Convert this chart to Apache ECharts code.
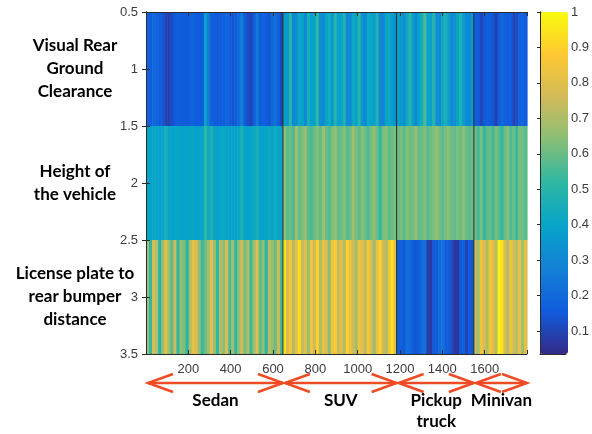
<!DOCTYPE html>
<html>
<head>
<meta charset="utf-8">
<script src="https://cdn.jsdelivr.net/npm/echarts@6/dist/echarts.min.js"></script>
<style>
  html, body { margin: 0; background: #fff; }
  #chart { width: 592px; height: 434px; }
</style>
</head>
<body>
<div id="chart"></div>
<script>
// vehicle classes and the column where each one starts / ends
var classNames = ['Sedan', 'SUV', 'Pickup\ntruck', 'Minivan'];
var classEdges = [0, 647, 1184, 1549, 1800];

var rowNames = ['Visual Rear\nGround\nClearance', 'Height of\nthe vehicle', 'License plate to\nrear bumper\ndistance'];

// Visual rear ground clearance (row 1), stripes per class
var clearanceSedan = [0.17,0.16,0.2,0.18,0.16,0.14,0.1,0.09,0.12,0.16,0.17,0.16,0.16,0.15,0.17,0.18,0.16,0.16,0.15,0.4,0.26,0.18,0.16,0.15,0.16,0.17,0.18,0.16,0.14,0.16,0.2,0.26,0.16,0.12,0.1,0.16,0.26,0.16,0.18,0.16,0.14,0.2,0.22,0.18,0.1];
var clearanceSuv = [0.38,0.36,0.5,0.3,0.32,0.42,0.4,0.3,0.46,0.38,0.4,0.52,0.32,0.3,0.4,0.44,0.36,0.5,0.38,0.4,0.48,0.3,0.31,0.42,0.39,0.5,0.34,0.3,0.42,0.4,0.38,0.48,0.3,0.28,0.4,0.42,0.38,0.32];
var clearancePickup = [0.4,0.36,0.32,0.42,0.5,0.38,0.3,0.4,0.44,0.56,0.4,0.38,0.5,0.32,0.3,0.42,0.46,0.38,0.3,0.32,0.4,0.48,0.38,0.31,0.3,0.36];
var clearanceMinivan = [0.16,0.15,0.1,0.15,0.17,0.16,0.14,0.09,0.16,0.2,0.17,0.15,0.16,0.1,0.12,0.17,0.18,0.16];

// Height of the vehicle (row 2)
var heightSedan = [0.4,0.39,0.41,0.4,0.39,0.4,0.46,0.4,0.39,0.4,0.41,0.4,0.39,0.4,0.4,0.41,0.39,0.4,0.4,0.52,0.42,0.48,0.4,0.39,0.4,0.41,0.4,0.39,0.4,0.4,0.41,0.47,0.4,0.39,0.4,0.41,0.46,0.4,0.39,0.4,0.42,0.4,0.44,0.4,0.39];
var heightSuv = [0.66,0.58,0.6,0.56,0.68,0.59,0.62,0.66,0.58,0.55,0.6,0.64,0.58,0.68,0.6,0.57,0.62,0.66,0.59,0.6,0.64,0.57,0.6,0.68,0.62,0.58,0.64,0.6,0.56,0.62,0.66,0.6,0.52,0.62,0.64,0.58,0.6,0.62];
var heightPickup = [0.6,0.62,0.58,0.64,0.6,0.61,0.66,0.59,0.6,0.63,0.58,0.6,0.62,0.66,0.6,0.58,0.62,0.64,0.6,0.59,0.62,0.6,0.65,0.6,0.58,0.6];
var heightMinivan = [0.6,0.55,0.62,0.52,0.58,0.6,0.54,0.62,0.58,0.52,0.6,0.64,0.56,0.6,0.53,0.62,0.6,0.58];

// License plate to rear bumper distance (row 3)
var plateSedan = [0.68,0.52,0.78,0.7,0.5,0.66,0.8,0.68,0.58,0.76,0.52,0.66,0.62,0.5,0.7,0.82,0.78,0.66,0.53,0.6,0.68,0.8,0.66,0.52,0.72,0.64,0.78,0.56,0.68,0.51,0.66,0.76,0.62,0.7,0.53,0.68,0.8,0.58,0.66,0.5,0.72,0.66,0.6,0.76,0.55];
var plateSuv = [0.94,0.78,0.86,0.7,0.82,0.92,0.74,0.8,0.66,0.84,0.76,0.9,0.7,0.82,0.78,0.64,0.84,0.88,0.74,0.8,0.7,0.9,0.82,0.76,0.68,0.84,0.8,0.72,0.86,0.78,0.66,0.82,0.9,0.76,0.7,0.84,0.94,0.8];
var platePickup = [0.16,0.18,0.15,0.22,0.2,0.16,0.14,0.16,0.2,0.22,0.08,0.07,0.16,0.15,0.2,0.22,0.16,0.15,0.12,0.07,0.06,0.15,0.18,0.1,0.16,0.14];
var plateMinivan = [0.74,0.68,0.84,0.78,0.7,0.86,0.8,0.72,0.97,0.94,0.78,0.7,0.84,0.76,0.72,0.82,0.68,0.8];

var colorbarTicks = [0.1,0.2,0.3,0.4,0.5,0.6,0.7,0.8,0.9,1];
var parula = ['#352a87','#0f5cdd','#1481d6','#06a4ca','#2eb7a4','#87bf77','#d1bb59','#fec832','#f9fb0e'];

var rows = [
  [clearanceSedan, clearanceSuv, clearancePickup, clearanceMinivan],
  [heightSedan, heightSuv, heightPickup, heightMinivan],
  [plateSedan, plateSuv, platePickup, plateMinivan]
];

// each stripe: [x start, x end, row, value]
var cells = [];
rows.forEach(function (classes, r) {
  classes.forEach(function (vals, c) {
    var w = (classEdges[c + 1] - classEdges[c]) / vals.length;
    vals.forEach(function (v, i) {
      cells.push([classEdges[c] + i * w, classEdges[c] + (i + 1) * w, r + 1, v]);
    });
  });
});

var classData = classNames.map(function (n, i) {
  return [classEdges[i], classEdges[i + 1], n];
});

var tickFont = { fontFamily: 'Liberation Sans', fontSize: 13, color: '#3c3c3c' };
var frame = { show: true, lineStyle: { color: '#2b2b2b', width: 1 } };
var red = '#ef4b24';

var chart = echarts.init(document.getElementById('chart'));

chart.setOption({
  animation: false,
  backgroundColor: '#fff',
  grid: [
    { left: 146, top: 12, right: 65, bottom: 80 },
    { left: 540, top: 12, width: 28, bottom: 80 }
  ],
  xAxis: [
    {
      type: 'value', gridIndex: 0, min: 0, max: 1800, interval: 200, z: 5,
      axisLine: frame, splitLine: { show: false },
      axisTick: { inside: true, length: 4, lineStyle: { color: '#2b2b2b' } },
      axisLabel: Object.assign({ margin: 9, formatter: function (v) { return (v === 0 || v === 1800) ? '' : v; } }, tickFont)
    },
    {
      type: 'value', gridIndex: 0, position: 'top', min: 0, max: 1800, interval: 200, z: 5,
      axisLine: frame, splitLine: { show: false },
      axisTick: { inside: true, length: 4, lineStyle: { color: '#2b2b2b' } },
      axisLabel: { show: false }
    },
    {
      type: 'value', gridIndex: 1, min: 0, max: 1, axisLine: frame,
      axisTick: { show: false }, axisLabel: { show: false }, splitLine: { show: false }
    },
    {
      type: 'value', gridIndex: 1, position: 'top', min: 0, max: 1, axisLine: frame,
      axisTick: { show: false }, axisLabel: { show: false }, splitLine: { show: false }
    }
  ],
  yAxis: [
    {
      type: 'value', gridIndex: 0, inverse: true, min: 0.5, max: 3.5, interval: 0.5, z: 5,
      axisLine: frame, splitLine: { show: false },
      axisTick: { inside: true, length: 4, lineStyle: { color: '#2b2b2b' } },
      axisLabel: Object.assign({ margin: 8 }, tickFont)
    },
    {
      type: 'value', gridIndex: 0, position: 'right', inverse: true, min: 0.5, max: 3.5, interval: 0.5, z: 5,
      axisLine: frame, splitLine: { show: false },
      axisTick: { inside: true, length: 4, lineStyle: { color: '#2b2b2b' } },
      axisLabel: { show: false }
    },
    {
      type: 'category', gridIndex: 0, position: 'left', inverse: true, data: rowNames,
      axisLine: { show: false }, axisTick: { show: false },
      axisLabel: {
        margin: 71, align: 'center', fontFamily: 'Lato', fontWeight: 'bold',
        fontSize: 17, lineHeight: 23, color: '#000'
      }
    },
    {
      type: 'value', gridIndex: 1, position: 'right', min: 0.035, max: 1, z: 5,
      axisLine: frame, splitLine: { show: false },
      axisTick: { inside: true, length: 3, customValues: colorbarTicks, lineStyle: { color: '#2b2b2b' } },
      axisLabel: Object.assign({ margin: 5, customValues: colorbarTicks }, tickFont)
    },
    {
      type: 'value', gridIndex: 1, position: 'left', min: 0.035, max: 1,
      axisLine: frame, axisTick: { show: false }, axisLabel: { show: false }, splitLine: { show: false }
    }
  ],
  visualMap: {
    type: 'continuous', seriesIndex: 0, dimension: 3,
    min: 0.035, max: 1, calculable: false, hoverLink: false,
    left: 540, top: 12, padding: 0, itemWidth: 28, itemHeight: 342,
    text: null, showLabel: false,
    inRange: { color: parula }
  },
  series: [
    {
      type: 'custom', xAxisIndex: 0, yAxisIndex: 0,
      data: cells,
      renderItem: function (params, api) {
        var p0 = api.coord([api.value(0), api.value(2) - 0.5]);
        var p1 = api.coord([api.value(1), api.value(2) + 0.5]);
        return {
          type: 'rect',
          shape: { x: p0[0], y: p0[1], width: p1[0] - p0[0] + 0.6, height: p1[1] - p0[1] },
          style: { fill: api.visual('color') }
        };
      }
    },
    {
      // class boundaries + red double arrows with class names below the axis
      type: 'custom', xAxisIndex: 0, yAxisIndex: 0, clip: false, z: 6,
      data: classData,
      renderItem: function (params, api) {
        var a = api.coord([api.value(0), 3.5]);
        var b = api.coord([api.value(1), 3.5]);
        var top = api.coord([api.value(0), 0.5]);
        var y = a[1] + 29;
        var x0 = a[0] + 2, x1 = b[0];
        var children = [
          { type: 'polyline', shape: { points: [[x0, y], [x1, y]] }, style: { stroke: red, lineWidth: 2.5, fill: null } },
          { type: 'polyline', shape: { points: [[x0 + 25, y - 9], [x0, y], [x0 + 25, y + 9]] }, style: { stroke: red, lineWidth: 2.5, fill: null } },
          { type: 'polyline', shape: { points: [[x1 - 25, y - 9], [x1, y], [x1 - 25, y + 9]] }, style: { stroke: red, lineWidth: 2.5, fill: null } },
          {
            type: 'text', x: (x0 + x1) / 2, y: y + 7,
            style: {
              text: api.value(2), align: 'center', verticalAlign: 'top',
              font: 'bold 17px Lato', lineHeight: 21, fill: '#000'
            }
          }
        ];
        if (params.dataIndex > 0) {
          children.push({
            type: 'line', shape: { x1: a[0], y1: top[1], x2: a[0], y2: a[1] },
            style: { stroke: '#2b2b2b', lineWidth: 1 }
          });
        }
        return { type: 'group', children: children };
      }
    }
  ]
});
</script>
</body>
</html>
